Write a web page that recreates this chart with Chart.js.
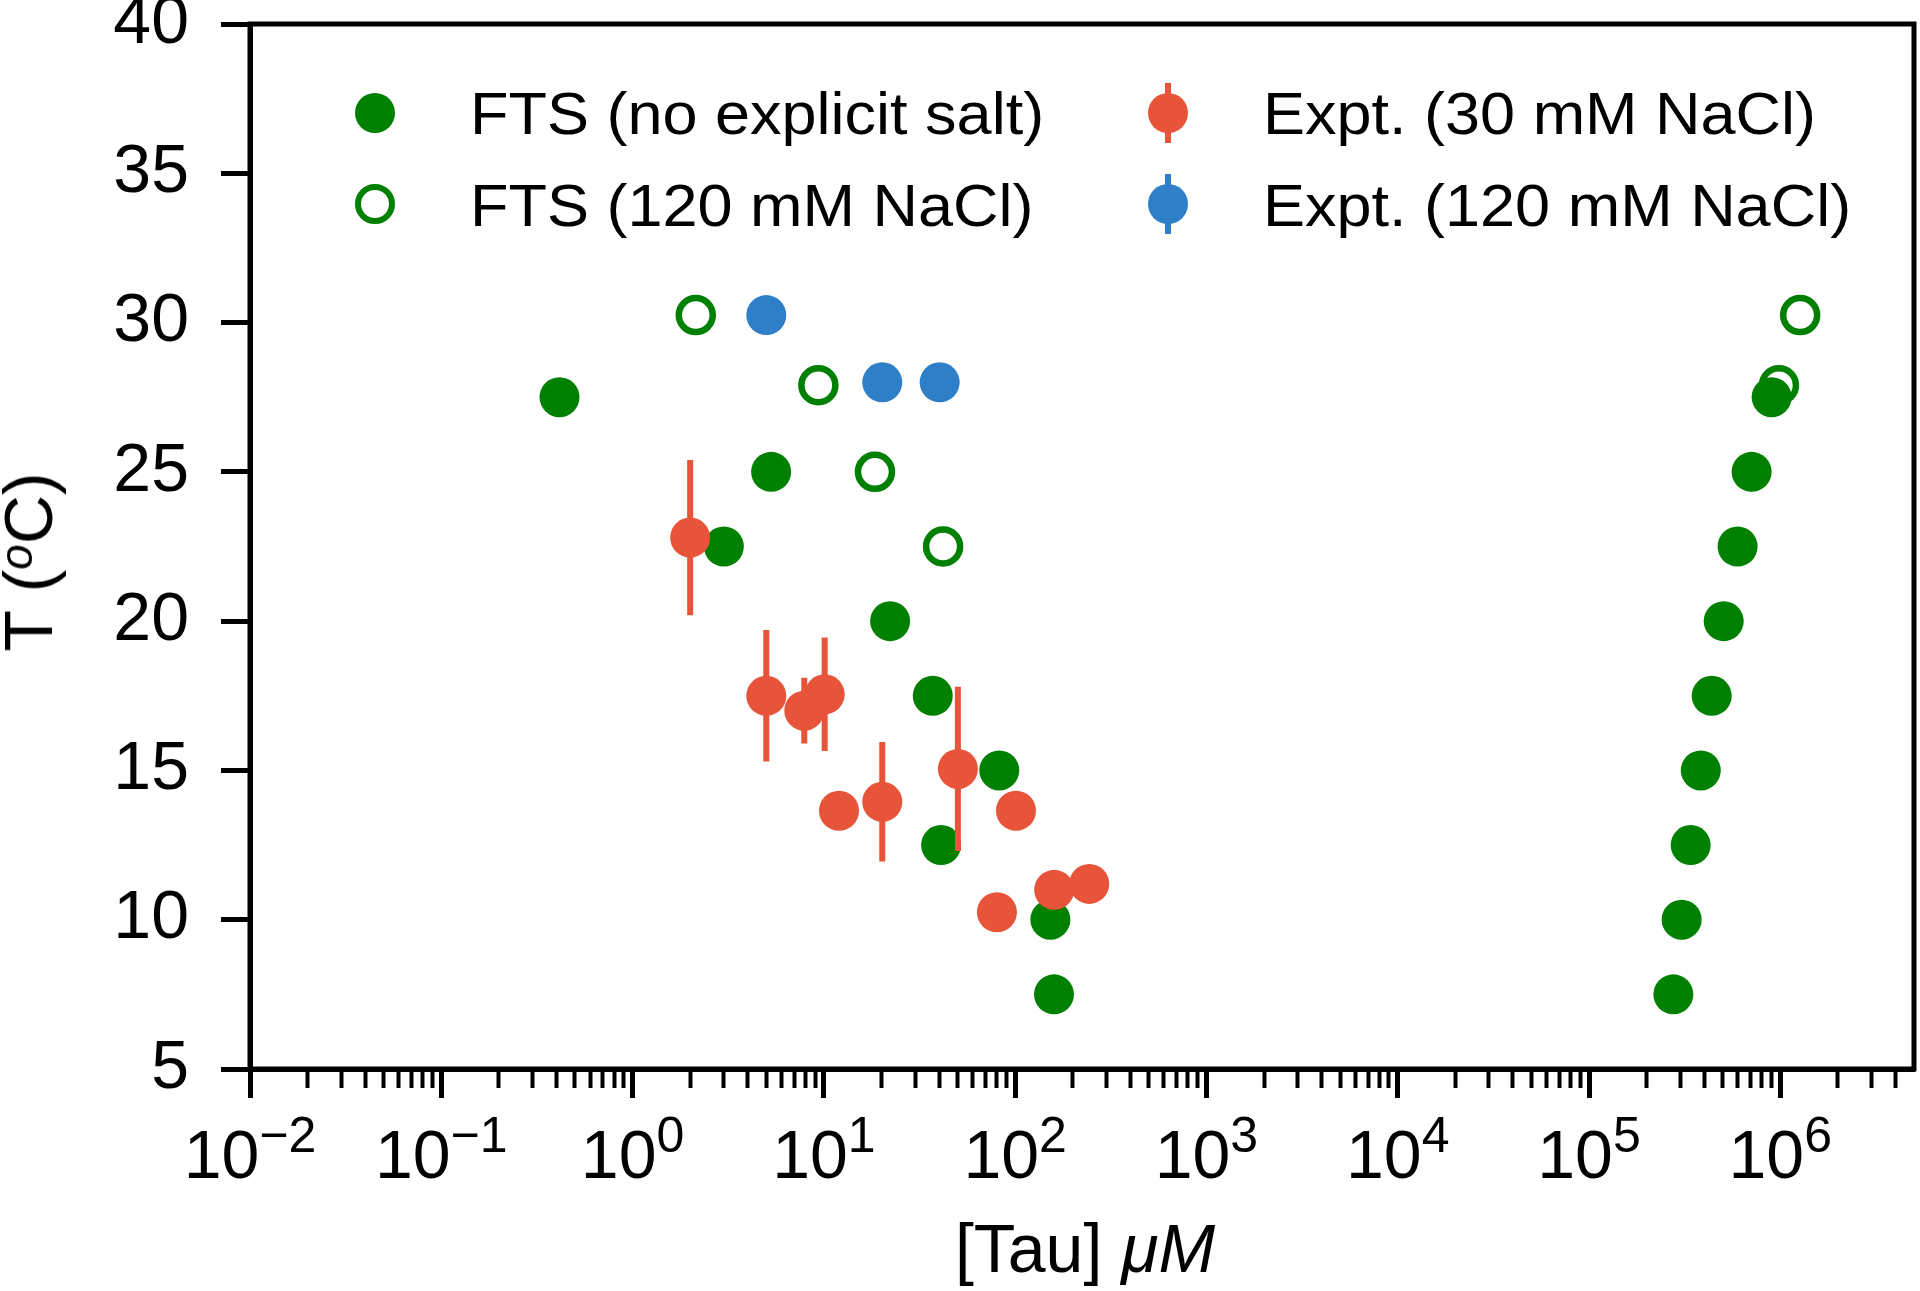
<!DOCTYPE html>
<html>
<head>
<meta charset="utf-8">
<script src="https://cdn.jsdelivr.net/npm/chart.js@4.4.1/dist/chart.umd.min.js"></script>
<style>
    html, body { margin: 0; padding: 0; background: #fff; }
    #wrap {
        position: relative;
        width: 1920px;
        height: 1291px;
        font-family: "Liberation Sans", Arial, Helvetica, sans-serif;
        color: #000;
        overflow: hidden;
    }
    #chart { position: absolute; left: 0; top: 0; }
    .lbl { position: absolute; white-space: nowrap; font-size: 68px; line-height: 68px; }
    .xt { transform: translateX(-50%); }
    .xt sup { font-size: 50px; line-height: 0; vertical-align: baseline; position: relative; top: -26px; }
    .ytitle { transform: translate(-50%, -50%) rotate(-90deg); }
    .ytitle sup { font-size: 46px; line-height: 0; vertical-align: baseline; position: relative; top: -20px; }
    .leg { position: absolute; white-space: nowrap; font-size: 60px; line-height: 60px; transform: scaleX(1.05); transform-origin: left center; }
    .mk { position: absolute; width: 40px; height: 40px; border-radius: 50%; box-sizing: border-box; transform: translate(-50%, -50%); }
    .bar { position: absolute; width: 6px; height: 60px; transform: translate(-50%, -50%); }
</style>
</head>
<body>
<div id="wrap">
    <canvas id="chart" width="1920" height="1291"></canvas>
</div>
<script>
// FTS, no explicit salt (filled green)
const ftsNoSaltX = [0.415, 5.3, 3.0, 22.2, 37.1, 82.6, 41.0, 152.8, 159.6,
    2.76e5, 3.05e5, 3.40e5, 3.84e5, 4.38e5, 5.06e5, 5.98e5, 7.08e5, 9.01e5];
const ftsNoSaltT = [27.5, 25.0, 22.5, 20.0, 17.5, 15.0, 12.5, 10.0, 7.5,
    7.5, 10.0, 12.5, 15.0, 17.5, 20.0, 22.5, 25.0, 27.5];

// FTS, 120 mM NaCl (open green)
const ftsSaltX = [2.14, 9.36, 18.5, 42.0, 1.27e6, 9.84e5];
const ftsSaltT = [30.25, 27.9, 25.0, 22.5, 30.25, 27.9];

// Expt., 30 mM NaCl (red, with error bars)
const exptLowX = [2.0, 5.0, 7.9, 10.1, 12.0, 20.2, 50.2, 101, 80.3, 160, 244];
const exptLowT = [22.8, 17.5, 17.0, 17.55, 13.65, 13.95, 15.05, 13.65, 10.25, 11.0, 11.2];
const exptLowErr = [2.6, 2.2, 1.1, 1.9, 0, 2.0, 2.75, 0, 0, 0, 0];

// Expt., 120 mM NaCl (blue)
const exptHighX = [5.0, 20.2, 40.3];
const exptHighT = [30.25, 28.0, 28.0];

// axes
const xMin = 1e-2;
const xMax = 5e6;
const xMajorExps = [-2, -1, 0, 1, 2, 3, 4, 5, 6];
const yMin = 5;
const yMax = 40;
const yTickValues = [5, 10, 15, 20, 25, 30, 35, 40];

const legendItems = [
    { text: "FTS (no explicit salt)", kind: "filled", col: 0, row: 0 },
    { text: "FTS (120 mM NaCl)", kind: "open", col: 0, row: 1 },
    { text: "Expt. (30 mM NaCl)", kind: "red", col: 1, row: 0 },
    { text: "Expt. (120 mM NaCl)", kind: "blue", col: 1, row: 1 }
];

const GREEN = "#008000";
const RED = "#e8543a";
const BLUE = "#2f7fc8";
const FONT = "'Liberation Sans', Arial, Helvetica, sans-serif";

const toPoints = (xs, ys) => xs.map((x, i) => ({ x, y: ys[i] }));

// x ticks: majors at decades, minors at 2..9 x decade
const xTicks = [];
xMajorExps.forEach(e => {
    const base = Math.pow(10, e);
    xTicks.push({ value: base, major: true });
    for (let m = 2; m <= 9; m++) {
        if (m * base < xMax) xTicks.push({ value: m * base, major: false });
    }
});

// error bar segments, broken with null gaps
const errSegments = [];
exptLowX.forEach((x, i) => {
    const e = exptLowErr[i];
    if (!e) return;
    errSegments.push({ x, y: exptLowT[i] - e });
    errSegments.push({ x, y: exptLowT[i] + e });
    errSegments.push({ x, y: null });
});

const framePlugin = {
    id: "frame",
    afterDraw(chart) {
        const a = chart.chartArea;
        const c = chart.ctx;
        c.save();
        c.strokeStyle = "#000";
        c.lineWidth = 5;
        c.strokeRect(a.left, a.top, a.right - a.left, a.bottom - a.top);
        c.restore();
    }
};

const chart = new Chart(document.getElementById("chart"), {
    type: "scatter",
    data: {
        datasets: [
            {
                label: "Expt. (30 mM NaCl)",
                data: toPoints(exptLowX, exptLowT),
                backgroundColor: RED,
                borderWidth: 0,
                pointRadius: 20,
                pointHoverRadius: 20,
                order: 0
            },
            {
                label: "err",
                data: errSegments,
                showLine: true,
                spanGaps: false,
                borderColor: RED,
                borderWidth: 6,
                pointRadius: 0,
                pointHoverRadius: 0,
                order: 1
            },
            {
                label: "Expt. (120 mM NaCl)",
                data: toPoints(exptHighX, exptHighT),
                backgroundColor: BLUE,
                borderWidth: 0,
                pointRadius: 20,
                pointHoverRadius: 20,
                order: 2
            },
            {
                label: "FTS (no explicit salt)",
                data: toPoints(ftsNoSaltX, ftsNoSaltT),
                backgroundColor: GREEN,
                borderWidth: 0,
                pointRadius: 20,
                pointHoverRadius: 20,
                order: 3
            },
            {
                label: "FTS (120 mM NaCl)",
                data: toPoints(ftsSaltX, ftsSaltT),
                backgroundColor: "#fff",
                borderColor: GREEN,
                borderWidth: 6.5,
                pointRadius: 17,
                pointHoverRadius: 17,
                order: 4
            }
        ]
    },
    options: {
        responsive: false,
        animation: false,
        devicePixelRatio: 1,
        layout: { autoPadding: false, padding: { top: 24, right: 6, left: 0, bottom: 0 } },
        plugins: {
            legend: { display: false },
            tooltip: { enabled: false }
        },
        scales: {
            x: {
                type: "logarithmic",
                min: xMin,
                max: xMax,
                afterBuildTicks: s => { s.ticks = xTicks.map(t => ({ value: t.value, major: t.major })); },
                afterFit: s => { s.height = 222; s.paddingLeft = 0; s.paddingRight = 0; },
                ticks: { display: false, autoSkip: false },
                grid: {
                    drawOnChartArea: false,
                    drawTicks: true,
                    tickLength: 29,
                    tickColor: "#000",
                    tickWidth: c => (c.tick && c.tick.major) ? 5 : 4,
                    tickBorderDash: c => (c.tick && c.tick.major) ? [] : [16, 400]
                },
                border: { display: true, color: "#000", width: 5 }
            },
            y: {
                type: "linear",
                min: yMin,
                max: yMax,
                afterBuildTicks: s => { s.ticks = yTickValues.map(v => ({ value: v })); },
                afterFit: s => { s.width = 250; s.paddingTop = 0; s.paddingBottom = 0; },
                ticks: {
                    autoSkip: false,
                    color: "#000",
                    padding: 32,
                    font: { family: FONT, size: 68 },
                    callback: v => String(v)
                },
                grid: {
                    drawOnChartArea: false,
                    drawTicks: true,
                    tickLength: 29,
                    tickColor: "#000",
                    tickWidth: 5
                },
                border: { display: true, color: "#000", width: 5 }
            }
        }
    },
    plugins: [framePlugin]
});

// html text placed from the chart's own scales
const wrap = document.getElementById("wrap");
const xs = chart.scales.x;
const area = chart.chartArea;

function addEl(cls, html, left, top) {
    const d = document.createElement("div");
    d.className = cls;
    d.innerHTML = html;
    d.style.left = left + "px";
    d.style.top = top + "px";
    wrap.appendChild(d);
    return d;
}

xMajorExps.forEach(e => {
    const px = xs.getPixelForValue(Math.pow(10, e));
    const exp = e < 0 ? "\u2212" + Math.abs(e) : String(e);
    addEl("lbl xt", "10<sup>" + exp + "</sup>", px, 1120);
});

addEl("lbl xt", "[Tau] <i>\u03bcM</i>", (area.left + area.right) / 2 + 3, 1214);
addEl("lbl ytitle", "T (<sup><i>o</i></sup>C)", 28, 562);

// legend
const legCols = [{ mark: 375, text: 470 }, { mark: 1168, text: 1263 }];
const legRows = [{ mark: 113, text: 84 }, { mark: 204, text: 176 }];
legendItems.forEach(item => {
    const col = legCols[item.col];
    const row = legRows[item.row];
    if (item.kind === "red" || item.kind === "blue") {
        const color = item.kind === "red" ? RED : BLUE;
        const b = addEl("bar", "", col.mark, row.mark);
        b.style.background = color;
        const m = addEl("mk", "", col.mark, row.mark);
        m.style.background = color;
    } else if (item.kind === "filled") {
        const m = addEl("mk", "", col.mark, row.mark);
        m.style.background = GREEN;
    } else {
        const m = addEl("mk", "", col.mark, row.mark);
        m.style.background = "#fff";
        m.style.border = "6.5px solid " + GREEN;
    }
    addEl("leg", item.text, col.text, row.text);
});
</script>
</body>
</html>
